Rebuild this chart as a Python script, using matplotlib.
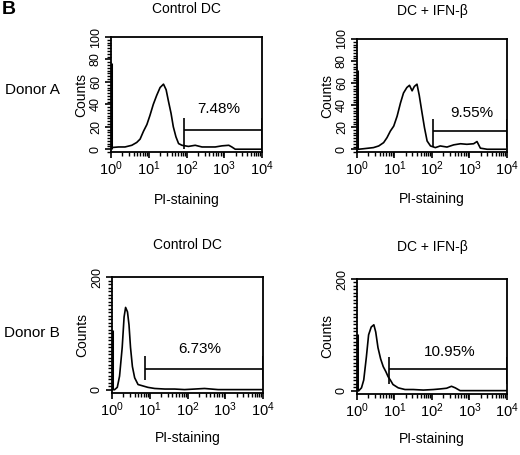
import numpy as np
import matplotlib
matplotlib.use('Agg')
import matplotlib.pyplot as plt
from matplotlib.ticker import FixedLocator, FixedFormatter, MultipleLocator

plt.rcParams['font.family'] = ['Liberation Sans', 'DejaVu Sans']
plt.rcParams['mathtext.fontset'] = 'custom'
plt.rcParams['mathtext.rm'] = 'Liberation Sans'
plt.rcParams['mathtext.default'] = 'regular'

# PI-staining histograms, x as log10 of fluorescence, y as counts
a_ctrl_log = [0.02, 0.2, 0.37, 0.55, 0.68, 0.77, 0.86, 0.95, 1.03, 1.12, 1.21, 1.30, 1.39,
              1.46, 1.52, 1.59, 1.65, 1.72, 1.79, 1.88, 2.05, 2.23, 2.41, 2.58, 2.76, 2.94,
              3.12, 3.2, 3.29, 3.42, 3.56, 3.8, 4.0]
a_ctrl_cnt = [1.5, 2, 2, 3.5, 6, 9, 16, 22, 30, 40, 48, 55, 58, 53, 43, 32, 20, 11, 5, 3.5,
              2.5, 3.5, 2, 2, 2, 3, 3.5, 2, 0, 0, 0, 0, 0]

a_ifn_log = [0.04, 0.18, 0.31, 0.44, 0.58, 0.71, 0.80, 0.89, 0.98, 1.07, 1.16, 1.24, 1.33,
             1.40, 1.47, 1.53, 1.60, 1.66, 1.73, 1.80, 1.87, 1.96, 2.09, 2.22, 2.40, 2.58,
             2.76, 2.93, 3.11, 3.20, 3.29, 3.47, 3.64, 3.82, 3.96]
a_ifn_cnt = [0, 0.5, 1, 1.5, 3, 6, 10.5, 16.5, 21, 30, 42, 51, 56, 58, 53, 57, 59, 49, 34,
             19.5, 7.5, 3, 1.5, 3, 2, 4, 5, 4.5, 5, 7, 1, 0, 0, 0, 0]

b_ctrl_log = [0.07, 0.14, 0.2, 0.27, 0.32, 0.36, 0.41, 0.45, 0.49, 0.54, 0.6, 0.69, 0.82,
              0.95, 1.13, 1.4, 1.66, 1.92, 2.19, 2.45, 2.63, 2.81, 2.98, 3.16, 3.34, 3.78, 4.0]
b_ctrl_cnt = [0, 4, 24, 75, 129, 146, 138, 115, 75, 41, 21, 9, 6.5, 4, 2, 1, 1, 0, 1, 2, 1,
              0, 0, 0, 0, 0, 0]

b_ifn_log = [0.05, 0.12, 0.18, 0.25, 0.31, 0.38, 0.45, 0.5, 0.56, 0.63, 0.7, 0.77, 0.83,
             0.89, 0.96, 1.1, 1.28, 1.5, 1.77, 2.04, 2.21, 2.39, 2.52, 2.62, 2.75, 2.93,
             3.11, 3.38, 3.73, 4.0]
b_ifn_cnt = [0, 5, 19, 60, 100, 114, 118, 105, 77, 57, 43, 34, 25, 19, 11, 5, 2, 2, 1, 2, 3,
             4.3, 7.8, 5, 0, 0, 0, 0, 0, 0]

# counts piled up in the first channel
edge_cnt = [77, 72, 106, 101]

# gate: start (log10), level, lower and upper end of the end markers
gate_start = [1.92, 2.03, 0.87, 0.86]
gate_level = [17.5, 16.5, 37, 39]
gate_lo = [0, 2, 17, 11]
gate_hi = [28, 27, 59, 61]
pct_text = ['7.48%', '9.55%', '6.73%', '10.95%']
pct_log = [2.85, 3.06, 2.32, 2.48]
pct_y = [36, 33, 72, 69]

titles = ['Control DC', 'DC + IFN-\u03b2', 'Control DC', 'DC + IFN-\u03b2']
donors = ['Donor A', 'Donor B']
decades = [1, 10, 100, 1000, 10000]
decade_labels = ['$10^0$', '$10^1$', '$10^2$', '$10^3$', '$10^4$']


def panel(fig, rect, logx, cnt, i, ymax, ymin, yticks, yminor, title_y, xlab_y):
    ax = fig.add_axes(rect)
    x = 10 ** np.array(logx)
    ax.plot(x, cnt, color='black', lw=1.2)
    ax.vlines(1, 0, edge_cnt[i], color='black', lw=2.2)
    g0 = 10 ** gate_start[i]
    ax.hlines(gate_level[i], g0, 1e4, color='black', lw=1.2)
    ax.vlines([g0, 1e4], gate_lo[i], gate_hi[i], color='black', lw=1.2)
    ax.text(10 ** pct_log[i], pct_y[i], pct_text[i], ha='center', va='center', fontsize=11)

    ax.set_xscale('log')
    ax.set_xlim(1, 1e4)
    ax.set_ylim(ymin, ymax)
    ax.xaxis.set_major_locator(FixedLocator(decades))
    ax.xaxis.set_major_formatter(FixedFormatter(decade_labels))
    ax.set_yticks(yticks)
    ax.set_yticklabels([str(t) for t in yticks], rotation=90, va='center', fontsize=9)
    ax.minorticks_on()
    ax.xaxis.set_minor_locator(FixedLocator([d * k for d in decades[:-1] for k in range(2, 10)]))
    ax.yaxis.set_minor_locator(MultipleLocator(yminor))
    ax.tick_params(axis='both', which='major', direction='out', length=4.5, width=1.2)
    ax.tick_params(axis='both', which='minor', direction='out', length=3, width=1.0)
    ax.tick_params(axis='x', which='major', labelsize=10.5, pad=1)
    ax.tick_params(axis='y', which='major', pad=2)
    for s in ax.spines.values():
        s.set_linewidth(1.3)
    ax.set_ylabel('Counts', fontsize=10, labelpad=1)
    ax.text(0.5, title_y, titles[i], transform=ax.transAxes, ha='center', va='center', fontsize=10)
    ax.text(0.5, xlab_y, 'PI-staining', transform=ax.transAxes, ha='center', va='center', fontsize=10)
    return ax


fig = plt.figure(figsize=(5.2, 4.55), dpi=100)

panel(fig, [0.2135, 0.6659, 0.2904, 0.2527], a_ctrl_log, a_ctrl_cnt, 0, 100, -2.5,
      [0, 20, 40, 60, 80, 100], 2.5, 1.24, -0.42)
panel(fig, [0.6865, 0.6659, 0.2885, 0.2484], a_ifn_log, a_ifn_cnt, 1, 100, -2.5,
      [0, 20, 40, 60, 80, 100], 2.5, 1.25, -0.42)
panel(fig, [0.2154, 0.1363, 0.2904, 0.2549], b_ctrl_log, b_ctrl_cnt, 2, 200, -6,
      [0, 200], 6.25, 1.28, -0.39)
panel(fig, [0.6865, 0.1341, 0.2885, 0.2527], b_ifn_log, b_ifn_cnt, 3, 200, -6,
      [0, 200], 6.25, 1.28, -0.39)

fig.text(32 / 520, 1 - 90 / 455, donors[0], ha='center', va='center', fontsize=11)
fig.text(32 / 520, 1 - 333 / 455, donors[1], ha='center', va='center', fontsize=11)
fig.text(2 / 520, 1 - 9 / 455, 'B', ha='left', va='center', fontsize=14, fontweight='bold')

fig.savefig('out.png', dpi=100)
